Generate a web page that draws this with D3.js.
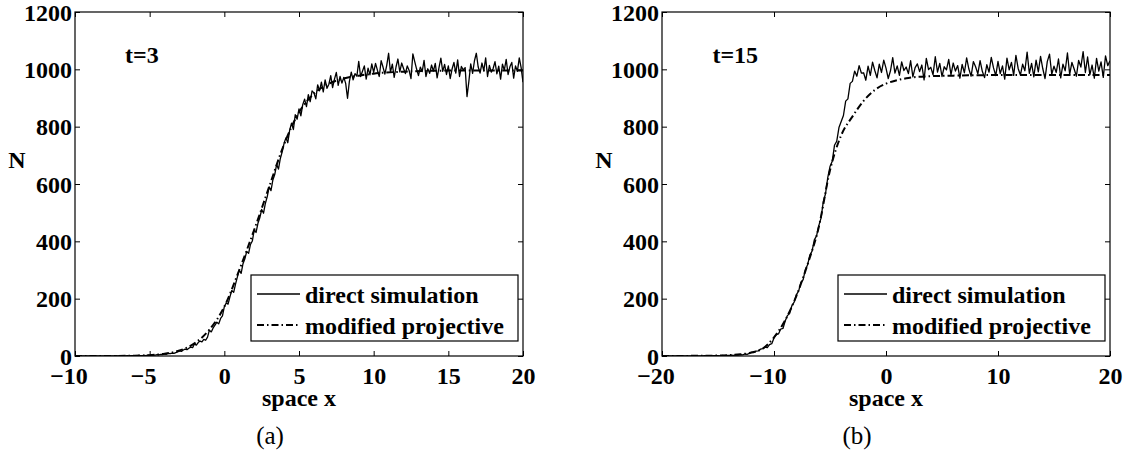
<!DOCTYPE html>
<html>
<head>
<meta charset="utf-8">
<script src="https://cdn.jsdelivr.net/npm/d3@7"></script>
<style>
  html, body { margin: 0; padding: 0; background: #fff; }
  svg { display: block; }
  text { font-family: "Liberation Serif", "Times New Roman", serif; fill: #000; }
</style>
</head>
<body>
<svg id="fig" width="1133" height="457"></svg>
<script>
// ---- panel (a): t = 3, sampled every 0.125 on [-10, 20] ----
const xStartA = -10, xStepA = 0.125;
const simA = [
  0,0,0,0,0,0,0,0,
  0,0,0,0,0,0,0,0,
  0,0,0,0,0,0,1,0,
  0,1,0,0,1,0,1,1,
  1,0,2,1,1,2,1,3,
  2,4,3,3,5,4,6,5,
  7,6,9,8,10,9,12,14,
  18,16,21,24,22,27,31,29,
  42,38,47,52,49,58,55,66,
  90,84,98,108,118,112,131,140,
  172,185,181,206,229,222,251,276,
  300,288,322,339,365,358,389,401,
  440,431,463,482,511,498,533,556,
  590,577,614,633,668,652,689,712,
  742,761,744,788,812,790,842,826,
  862,838,877,896,870,912,887,925,
  918,897,946,925,955,921,963,934,
  948,978,936,966,989,944,975,952,
  972,951,899,958,990,963,985,976,
  1028,975,993,1012,966,1004,981,1019,
  989,1021,997,975,1030,1008,983,1014,
  1056,990,1018,972,1009,1036,991,1022,
  1003,985,1012,996,968,1054,1027,1001,
  978,1008,992,1031,975,1002,986,1015,
  994,1021,970,1006,1039,993,1017,982,
  1012,968,1001,1024,987,1033,975,1010,
  998,1006,905,958,1019,986,1030,1056,
  1008,987,1022,995,1040,975,1014,990,
  1003,1027,984,1011,966,1018,997,1035,
  982,1009,1024,969,1012,993,1040,1006,
  955
];
const projXA = [-10,-8,-6,-5,-4,-3,-2,-1,0,1,2,3,4,5,6,7,8,9,10,12,14,16,18,20];
const projA  = [0,0,1,3,8,19,44,92,172,300,440,590,738,850,915,950,968,978,985,992,995,996,996,996];

// ---- panel (b): t = 15, sampled every 0.2 on [-20, 20] ----
const xStartB = -20, xStepB = 0.2;
const simB = [
  0,0,0,0,0,
  0,0,0,0,0,
  0,0,0,0,0,
  0,0,0,0,1,
  0,1,0,1,1,
  1,0,2,1,2,
  2,3,2,4,3,
  5,4,7,6,9,
  13,12,17,18,24,
  26,31,29,40,43,
  63,75,77,94,96,
  122,141,149,176,188,
  214,226,257,266,301,
  318,352,366,405,419,
  455,481,538,566,622,
  661,679,735,749,797,
  818,839,889,897,951,
  958,994,976,1013,987,
  988,962,1011,979,1025,
  996,970,1018,989,1032,
  1004,968,995,1041,987,
  1012,979,1026,996,1008,
  985,1030,974,1006,1019,
  992,1015,963,1038,999,
  1007,981,1044,990,1021,
  975,1009,998,1035,981,
  1022,994,1013,969,1017,
  988,1040,1001,976,1027,
  1009,984,1030,993,971,
  1016,990,1042,1005,978,
  1028,985,1012,966,1039,
  998,1024,979,1049,1003,
  980,1018,995,1060,986,
  1021,974,1032,991,1045,
  1002,968,1027,1053,983,
  1011,989,1036,970,1018,
  995,1057,982,1024,1001,
  976,1031,1008,1062,989,
  1043,981,1015,969,1038,
  994,1026,972,1047,1013,
  1030
];
const projXB = [-20,-16,-14,-13,-12,-11,-10,-9,-8,-7,-6,-5,-4,-3,-2,-1,0,1,2,4,6,10,15,20];
const projB  = [0,1,3,6,12,26,65,125,210,320,450,648,770,835,890,928,950,962,970,976,978,980,980,980];

// ---- axis ticks and labels ----
const yTicks = [0,200,400,600,800,1000,1200];
const xTicksA = [-10,-5,0,5,10,15,20];
const xTicksB = [-20,-10,0,10,20];
const legendLabels = ["direct simulation", "modified projective"];
const yLabel = "N", xLabel = "space x";

const svg = d3.select("#fig");
svg.append("rect").attr("width", 1133).attr("height", 457).attr("fill", "#fff");

function fmt(v) { return v < 0 ? "\u2212" + Math.abs(v) : String(v); }

function drawPanel(opt) {
  const g = svg.append("g");
  const x = d3.scaleLinear().domain(opt.xDomain).range([opt.left, opt.right]);
  const y = d3.scaleLinear().domain([0, 1200]).range([356, 12]);
  const clipId = "clip" + opt.id;
  svg.append("clipPath").attr("id", clipId)
    .append("rect").attr("x", opt.left).attr("y", 12)
    .attr("width", opt.right - opt.left).attr("height", 344);

  const simPts = opt.sim.map((v, i) => [opt.xStart + i * opt.xStep, v]);
  const projPts = opt.projX.map((v, i) => [v, opt.proj[i]]);

  const plot = g.append("g").attr("clip-path", `url(#${clipId})`);
  plot.append("path")
    .datum(projPts)
    .attr("fill", "none").attr("stroke", "#000").attr("stroke-width", 2)
    .attr("stroke-dasharray", "7,3,1.5,3")
    .attr("d", d3.line().curve(d3.curveMonotoneX).x(d => x(d[0])).y(d => y(d[1])));
  plot.append("path")
    .datum(simPts)
    .attr("fill", "none").attr("stroke", "#000").attr("stroke-width", 1.3)
    .attr("stroke-linejoin", "round")
    .attr("d", d3.line().x(d => x(d[0])).y(d => y(d[1])));

  // axes with inward ticks on all four sides
  const tl = 5;
  g.append("g").attr("transform", "translate(0,356)")
    .call(d3.axisBottom(x).tickValues(opt.xTicks).tickSize(-tl).tickFormat(fmt))
    .call(a => a.select(".domain").remove())
    .call(a => a.selectAll("text").attr("dy", null).attr("y", 28)
      .attr("x", d => d < 0 ? -6.5 : 0)
      .style("font-size", "24px").style("font-weight", "bold"));
  g.append("g").attr("transform", "translate(0,12)")
    .call(d3.axisTop(x).tickValues(opt.xTicks).tickSize(-tl).tickFormat(""))
    .call(a => a.select(".domain").remove());
  g.append("g").attr("transform", `translate(${opt.left},0)`)
    .call(d3.axisLeft(y).tickValues(yTicks).tickSize(-tl).tickFormat(d3.format("d")))
    .call(a => a.select(".domain").remove())
    .call(a => a.selectAll("text").attr("dy", "0.34em").attr("x", -3)
      .style("font-size", "24px").style("font-weight", "bold"));
  g.append("g").attr("transform", `translate(${opt.right},0)`)
    .call(d3.axisRight(y).tickValues(yTicks).tickSize(-tl).tickFormat(""))
    .call(a => a.select(".domain").remove());
  g.selectAll(".tick line").attr("stroke", "#000").attr("stroke-width", 1);
  g.selectAll(".tick text").attr("fill", "#000");

  g.append("rect")
    .attr("x", opt.left).attr("y", 12)
    .attr("width", opt.right - opt.left).attr("height", 344)
    .attr("fill", "none").attr("stroke", "#000").attr("stroke-width", 1.2);

  // labels
  g.append("text").attr("x", opt.left - 58).attr("y", 168)
    .attr("text-anchor", "middle").style("font-size", "24px").style("font-weight", "bold")
    .text(yLabel);
  g.append("text").attr("x", (opt.left + opt.right) / 2).attr("y", 406)
    .attr("text-anchor", "middle").style("font-size", "24px").style("font-weight", "bold")
    .text(xLabel);
  g.append("text").attr("x", x(opt.tagX)).attr("y", y(1022))
    .style("font-size", "24px").style("font-weight", "bold")
    .text(opt.tag);
  g.append("text").attr("x", opt.captionX).attr("y", 444)
    .attr("text-anchor", "middle").style("font-size", "25px")
    .text(opt.caption);

  // legend
  const lx = opt.right - 272, ly = 275;
  const lg = g.append("g");
  lg.append("rect").attr("x", lx).attr("y", ly).attr("width", 267).attr("height", 66)
    .attr("fill", "#fff").attr("stroke", "#000").attr("stroke-width", 1.2);
  const styles = [{w: 1.3, dash: null}, {w: 2, dash: "7,3,1.5,3"}];
  legendLabels.forEach((lab, i) => {
    const by = ly + 28 + i * 31;
    lg.append("line").attr("x1", lx + 6).attr("x2", lx + 49)
      .attr("y1", by - 9).attr("y2", by - 9)
      .attr("stroke", "#000").attr("stroke-width", styles[i].w)
      .attr("stroke-dasharray", styles[i].dash);
    lg.append("text").attr("x", lx + 54).attr("y", by)
      .style("font-size", "24px").style("font-weight", "bold").text(lab);
  });
}

drawPanel({ id: "a", left: 75, right: 523, xDomain: [-10, 20], xTicks: xTicksA,
  xStart: xStartA, xStep: xStepA, sim: simA, projX: projXA, proj: projA,
  tag: "t=3", tagX: -6.65, caption: "(a)", captionX: 270 });
drawPanel({ id: "b", left: 662, right: 1110, xDomain: [-20, 20], xTicks: xTicksB,
  xStart: xStartB, xStep: xStepB, sim: simB, projX: projXB, proj: projB,
  tag: "t=15", tagX: -15.5, caption: "(b)", captionX: 857 });
</script>
</body>
</html>
